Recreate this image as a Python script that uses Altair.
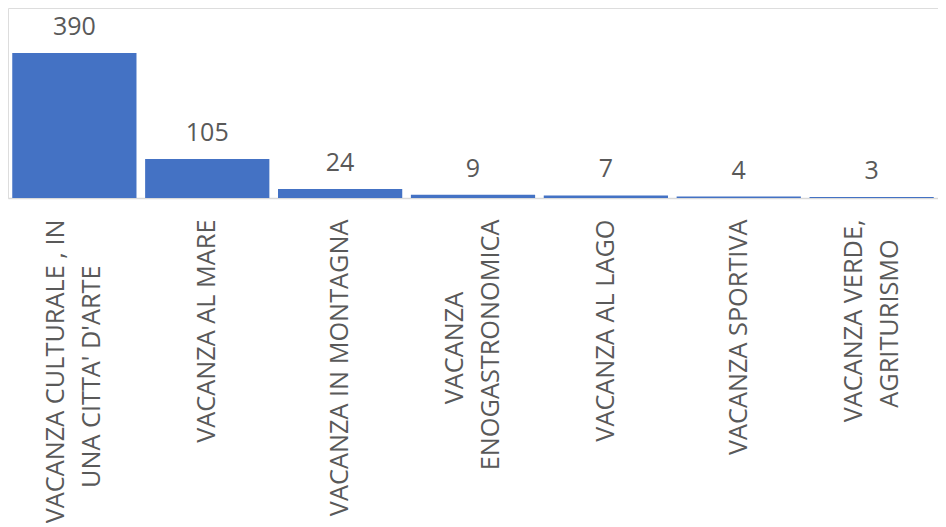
import altair as alt
import pandas as pd

NB = "\u00a0"
ZW = "\u200b"  # keeps the padding from being trimmed

# category label lines (as shown, wrapped)
cat_lines = [
    ["VACANZA CULTURALE , IN", "UNA CITTA' D'ARTE"],
    ["VACANZA AL MARE"],
    ["VACANZA IN MONTAGNA"],
    ["VACANZA", "ENOGASTRONOMICA"],
    ["VACANZA AL LAGO"],
    ["VACANZA SPORTIVA"],
    ["VACANZA VERDE,", "AGRITURISMO"],
]
values = [390, 105, 24, 9, 7, 4, 3]

# trailing non-breaking spaces to centre shorter wrapped lines
line_pad = [[0, 7], [0], [0], [11, 0], [0], [0], [0, 3]]

labels = [
    "|".join(line + (NB * p + ZW if p else "") for line, p in zip(lines, pads))
    for lines, pads in zip(cat_lines, line_pad)
]

df = pd.DataFrame({"cat": labels, "value": values})

FONT = "Open Sans"
GREY = "#595959"

x = alt.X(
    "cat:N",
    sort=None,
    title=None,
    scale=alt.Scale(paddingInner=0.065, paddingOuter=0.032),
    axis=alt.Axis(
        labelAngle=-90,
        labelAlign="right",
        labelBaseline="middle",
        labelExpr="split(datum.label, '|')",
        labelFont=FONT,
        labelFontSize=25.3,
        labelColor=GREY,
        labelLineHeight=36,
        labelPadding=21,
        labelLimit=0,
        labelOverlap=False,
        labelOffset={"condition": {"test": "indexof(datum.value, '|') >= 0", "value": -18}, "value": 0},
        ticks=False,
        tickSize=0,
        domainColor="#d9d9d9",
        domainWidth=1.5,
    ),
)
y = alt.Y(
    "value:Q",
    title=None,
    scale=alt.Scale(domain=[0, 511], nice=False, zero=True),
    axis=None,
)

bars = alt.Chart(df).mark_bar(color="#4472C4").encode(x=x, y=y)
text = alt.Chart(df).mark_text(
    font=FONT, fontSize=25, color=GREY, baseline="alphabetic", dy=-18
).encode(x=x, y=y, text="value:Q")

chart = (
    alt.layer(bars, text)
    .properties(width=930, height=190, padding={"left": 0, "top": 0, "right": 0, "bottom": 0})
    .configure_view(strokeWidth=0)
    .configure(background="white")
)

chart.save("out.html", embed_options={"renderer": "svg", "actions": False})
